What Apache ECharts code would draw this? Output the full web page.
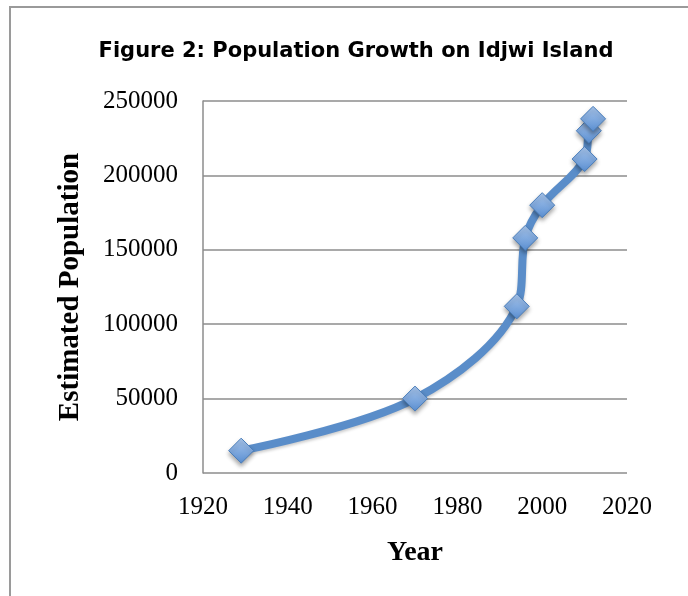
<!DOCTYPE html>
<html>
<head>
<meta charset="utf-8">
<script src="https://cdn.jsdelivr.net/npm/echarts@6/dist/echarts.min.js"></script>
<style>html,body{margin:0;padding:0;background:#fff;}#c{width:688px;height:596px;}</style>
</head>
<body>
<div id="c"></div>
<script>
var years = [1929, 1970, 1994, 1996, 2000, 2010, 2011, 2012];
var population = [15000, 50000, 112000, 158000, 180000, 211000, 230000, 238000];
var titleText = 'Figure 2: Population Growth on Idjwi Island';
var xName = 'Year';
var yName = 'Estimated Population';
var xMin = 1920, xMax = 2020, xStep = 20;
var yMin = 0, yMax = 250000, yStep = 50000;

var data = years.map(function (y, i) { return [y, population[i]]; });
var chart = echarts.init(document.getElementById('c'), null, {renderer: 'canvas'});
var serif = '"Liberation Serif", "DejaVu Serif", serif';
var plain = function (v) { return String(v); };
chart.setOption({
  animation: false,
  backgroundColor: '#fff',
  title: {
    text: titleText, left: 351, textAlign: 'center', top: 36,
    textStyle: {fontFamily: '"DejaVu Sans"', fontWeight: 'bold', fontSize: 21, color: '#000'}
  },
  graphic: [{
    type: 'rect', shape: {x: 10, y: 7, width: 720, height: 640},
    style: {fill: 'none', stroke: '#9a9a9a', lineWidth: 2}, silent: true, z: -1
  }],
  grid: {left: 203, top: 101, width: 424, height: 372, containLabel: false},
  xAxis: {
    type: 'value', min: xMin, max: xMax, interval: xStep,
    axisLine: {show: false}, axisTick: {show: false}, splitLine: {show: false},
    axisLabel: {margin: 22, fontFamily: serif, fontSize: 25, color: '#000', formatter: plain},
    name: xName, nameLocation: 'middle', nameGap: 66, nameMoveOverlap: false,
    nameTextStyle: {fontFamily: serif, fontWeight: 'bold', fontSize: 28, color: '#000'}
  },
  yAxis: {
    type: 'value', min: yMin, max: yMax, interval: yStep,
    axisLine: {show: true, lineStyle: {color: '#8c8c8c', width: 1.5}},
    axisTick: {show: false},
    splitLine: {show: true, lineStyle: {color: '#8c8c8c', width: 1.5}},
    axisLabel: {margin: 25, fontFamily: serif, fontSize: 25, color: '#000', formatter: plain},
    name: yName, nameLocation: 'middle', nameGap: 118, nameMoveOverlap: false,
    nameTextStyle: {fontFamily: serif, fontWeight: 'bold', fontSize: 29, color: '#000'}
  },
  series: [{
    type: 'line', data: data,
    smooth: 0.35,
    lineStyle: {color: '#5a8dc9', width: 8, shadowColor: 'rgba(0,0,0,0.2)', shadowBlur: 3, shadowOffsetY: 2},
    symbol: 'diamond', symbolSize: 25,
    itemStyle: {
      color: new echarts.graphic.LinearGradient(0, 0, 0, 1, [
        {offset: 0, color: '#a9c6ec'}, {offset: 1, color: '#5a8fd2'}
      ]),
      borderColor: '#4a7ebb', borderWidth: 1,
      shadowColor: 'rgba(0,0,0,0.35)', shadowBlur: 4, shadowOffsetY: 3
    },
    z: 3
  }]
});
</script>
</body>
</html>
